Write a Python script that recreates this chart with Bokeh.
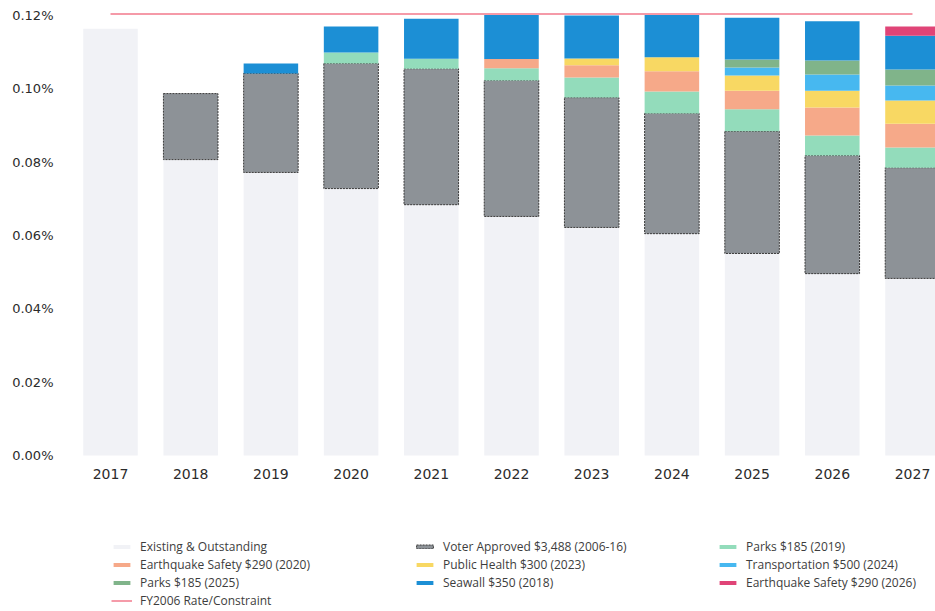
import numpy as np
from bokeh.plotting import figure
from bokeh.models import (ColumnDataSource, Range1d, FixedTicker,
                          PrintfTickFormatter, Legend, LegendItem)
from bokeh.embed import file_html
from bokeh.resources import INLINE

# ---- data (percent of assessed value) ----
years = [2017, 2018, 2019, 2020, 2021, 2022, 2023, 2024, 2025, 2026, 2027]
existing = [0.1164, 0.0807, 0.0772, 0.0728, 0.0684, 0.0652, 0.0622, 0.0605, 0.0551, 0.0496, 0.0483]
voter_approved = [0.0, 0.0180, 0.0270, 0.0341, 0.0371, 0.0371, 0.0354, 0.0328, 0.0333, 0.0322, 0.0302]
parks_2019 = [0.0, 0.0, 0.0, 0.0030, 0.0027, 0.0033, 0.0055, 0.0060, 0.0060, 0.0055, 0.0055]
eq_safety_2020 = [0.0, 0.0, 0.0, 0.0, 0.0, 0.0025, 0.0033, 0.0055, 0.0051, 0.0076, 0.0065]
public_health_2023 = [0.0, 0.0, 0.0, 0.0, 0.0, 0.0, 0.0019, 0.0038, 0.0041, 0.0046, 0.0063]
transportation_2024 = [0.0, 0.0, 0.0, 0.0, 0.0, 0.0, 0.0, 0.0, 0.0022, 0.0044, 0.0041]
parks_2025 = [0.0, 0.0, 0.0, 0.0, 0.0, 0.0, 0.0, 0.0, 0.0022, 0.0038, 0.0044]
seawall_2018 = [0.0, 0.0, 0.0027, 0.0071, 0.0109, 0.0120, 0.0117, 0.0115, 0.0114, 0.0107, 0.0092]
eq_safety_2026 = [0.0, 0.0, 0.0, 0.0, 0.0, 0.0, 0.0, 0.0, 0.0, 0.0, 0.0025]
fy2006_rate = [0.1204] * 11

y_ticks = [0.0, 0.02, 0.04, 0.06, 0.08, 0.10, 0.12]

# stacking order bottom -> top
stack_series = [
    ("Existing & Outstanding", existing, "#f1f2f6"),
    ("Voter Approved $3,488 (2006-16)", voter_approved, "#8d9297"),
    ("Parks $185 (2019)", parks_2019, "#93dcbb"),
    ("Earthquake Safety $290 (2020)", eq_safety_2020, "#f6a989"),
    ("Public Health $300 (2023)", public_health_2023, "#f8d863"),
    ("Transportation $500 (2024)", transportation_2024, "#47b8f0"),
    ("Parks $185 (2025)", parks_2025, "#80b48a"),
    ("Seawall $350 (2018)", seawall_2018, "#1c8fd5"),
    ("Earthquake Safety $290 (2026)", eq_safety_2026, "#e04477"),
]

# frame spans the whole height; the x axis is pinned at y = 0 and the legend
# sits in the lower part of the frame
p = figure(width=935, height=611, output_backend="svg", toolbar_location=None,
           x_range=Range1d(2016.4015, 2027.287), y_range=Range1d(-0.04254, 0.12136),
           min_border_left=62, min_border_right=0, min_border_top=10,
           min_border_bottom=0)

renderers = {}
base = np.zeros(len(years))
for name, vals, color in stack_series:
    v = np.array(vals)
    mask = v > 0
    src = ColumnDataSource(dict(x=np.array(years)[mask], bottom=base[mask], top=(base + v)[mask]))
    if name.startswith("Voter"):
        r = p.vbar(x="x", bottom="bottom", top="top", width=0.68, source=src,
                   fill_color=color, line_color="#3a3a3a", line_width=1, line_dash="2 1")
    else:
        r = p.vbar(x="x", bottom="bottom", top="top", width=0.68, source=src,
                   fill_color=color, line_color=None)
    renderers[name] = r
    base = base + v

rate_line = p.line(years, fy2006_rate, line_color="#f27a8c", line_width=1.5)
renderers["FY2006 Rate/Constraint"] = rate_line

legend_order = [
    "Existing & Outstanding", "Voter Approved $3,488 (2006-16)", "Parks $185 (2019)",
    "Earthquake Safety $290 (2020)", "Public Health $300 (2023)", "Transportation $500 (2024)",
    "Parks $185 (2025)", "Seawall $350 (2018)", "Earthquake Safety $290 (2026)",
    "FY2006 Rate/Constraint",
]
items = [LegendItem(label=n, renderers=[renderers[n]]) for n in legend_order]
legend = Legend(items=items, location=(49, 2), ncols=3, orientation="horizontal",
                label_text_font="Open Sans", label_text_font_size="12px",
                label_text_color="#3d3d3d", glyph_width=21, glyph_height=5,
                label_standoff=8, label_width=273, label_height=12, spacing=1,
                padding=0, margin=0, border_line_color=None, background_fill_alpha=0)
p.add_layout(legend, "center")

p.outline_line_color = None
p.xgrid.grid_line_color = None
p.ygrid.grid_line_color = None

p.yaxis.ticker = FixedTicker(ticks=y_ticks)
p.yaxis.formatter = PrintfTickFormatter(format="%.2f%%")
p.xaxis.ticker = FixedTicker(ticks=years)
p.xaxis.fixed_location = 0
for ax in (p.xaxis, p.yaxis):
    ax.axis_line_color = None
    ax.major_tick_line_color = None
    ax.minor_tick_line_color = None
    ax.major_label_text_font = "DejaVu Sans"
    ax.major_label_text_font_size = "14px"
    ax.major_label_text_color = "#2b2b2b"
p.yaxis.major_label_text_font_size = "13px"
p.yaxis.major_label_standoff = 3
p.xaxis.major_label_standoff = 7

open("out.html", "w").write(file_html(p, INLINE))
